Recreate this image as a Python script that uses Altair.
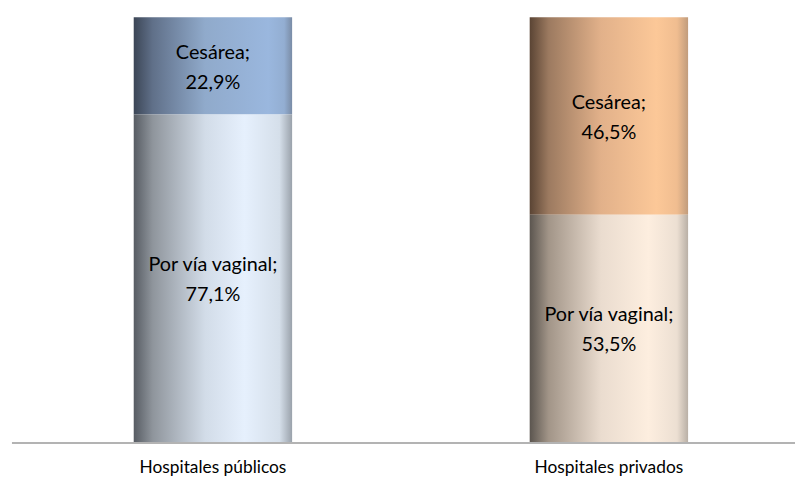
import altair as alt
import pandas as pd

hospitals = ["Hospitales públicos", "Hospitales privados"]
vaginal = [77.1, 53.5]
cesarea = [22.9, 46.5]
type_labels = ["Por vía vaginal", "Cesárea"]

rows = []
for h, v, c in zip(hospitals, vaginal, cesarea):
    rows.append({"hospital": h, "tipo": type_labels[0], "orden": 0, "valor": v / 100.0})
    rows.append({"hospital": h, "tipo": type_labels[1], "orden": 1, "valor": c / 100.0})
df = pd.DataFrame(rows)
df["label1"] = df["tipo"] + ";"
df["label2"] = df["valor"].map(lambda x: f"{x*100:.1f}%".replace(".", ","))

W, H = 788, 429

x = alt.X("hospital:N", sort=hospitals,
          scale=alt.Scale(range=[0, 800], paddingInner=0.6, paddingOuter=0.3),
          axis=alt.Axis(title=None, domain=False, ticks=False, labelAngle=0,
                        labelFont="Lato", labelFontSize=17.5, labelColor="#000000",
                        labelPadding=17))
yscale = alt.Scale(domain=[0, 1], nice=False)

base = alt.Chart(df).transform_stack(
    stack="valor", groupby=["hospital"], as_=["y0", "y1"],
    sort=[alt.SortField("orden", order="ascending")]
).transform_calculate(ymid="(datum.y0 + datum.y1) / 2")

def grad(stops):
    return alt.Gradient(gradient="linear", x1=0, y1=0, x2=1, y2=0,
                        stops=[alt.GradientStop(offset=o, color=c) for o, c in stops])

gradients = {
    ("Hospitales públicos", "Cesárea"): [(0, "#3c4656"), (0.12, "#607089"), (0.45, "#90aacb"),
                                         (0.85, "#9ab7de"), (0.95, "#93aed2"), (1, "#7a8ca6")],
    ("Hospitales públicos", "Por vía vaginal"): [(0, "#575c63"), (0.12, "#8f959c"), (0.45, "#d2dce8"),
                                                 (0.7, "#e6f0fd"), (0.92, "#d5dfea"), (1, "#9aa2ab")],
    ("Hospitales privados", "Cesárea"): [(0, "#5a4434"), (0.12, "#9c7a60"), (0.45, "#e2b18a"),
                                         (0.8, "#fcc898"), (0.93, "#f0bd90"), (1, "#c19c7c")],
    ("Hospitales privados", "Por vía vaginal"): [(0, "#5b554f"), (0.12, "#a29588"), (0.45, "#eadccf"),
                                                 (0.75, "#fdeedf"), (0.93, "#ecdfd2"), (1, "#b9b0a6")],
}

layers = []
for (h, t), st in gradients.items():
    layers.append(
        base.transform_filter(
            (alt.datum.hospital == h) & (alt.datum.tipo == t)
        ).mark_bar(color=grad(st)).encode(
            x=x,
            y=alt.Y("y1:Q", scale=yscale, axis=None),
            y2="y0:Q",
        )
    )

text1 = base.mark_text(font="Lato", fontSize=20, color="#000000", dy=-13).encode(
    x=alt.X("hospital:N", sort=hospitals),
    y=alt.Y("ymid:Q", scale=yscale),
    text="label1:N",
)
text2 = base.mark_text(font="Lato", fontSize=20, color="#000000", dy=17).encode(
    x=alt.X("hospital:N", sort=hospitals),
    y=alt.Y("ymid:Q", scale=yscale),
    text="label2:N",
)

baseline = alt.Chart(pd.DataFrame({"v": [0]})).mark_rule(color="#9a9a9a", strokeWidth=1.5).encode(
    x=alt.value(-3), x2=alt.value(W), y=alt.value(H + 1)
)

chart = alt.layer(*layers, baseline, text1, text2).properties(
    width=W, height=H,
    background="#ffffff",
    autosize=alt.AutoSizeParams(type="none"),
    padding={"left": 7, "top": 7, "right": 0, "bottom": 34},
).configure_view(stroke=None, strokeWidth=0)

chart.save("out.html", embed_options={"renderer": "svg", "actions": False})
